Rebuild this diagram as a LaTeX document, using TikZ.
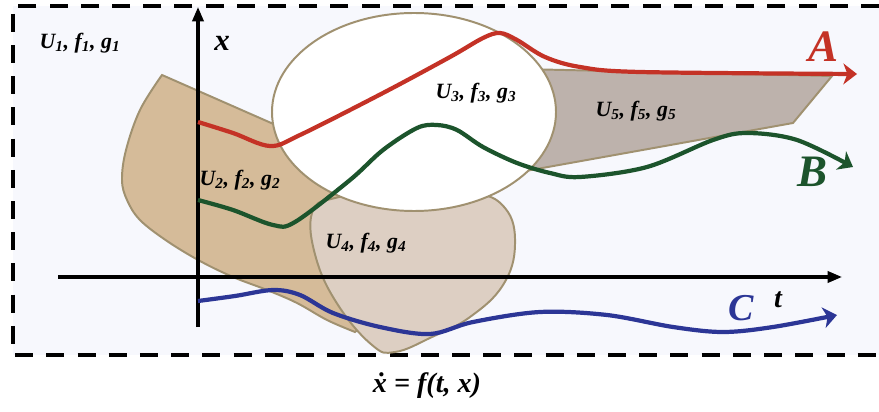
\documentclass[tikz,border=0pt]{standalone}
\usepackage{fontspec}
\setmainfont{Liberation Serif}
\usetikzlibrary{arrows.meta}

\definecolor{boxbg}{RGB}{247,248,253}
\definecolor{regionedge}{RGB}{160,145,112}
\definecolor{tanfill}{RGB}{213,187,153}
\definecolor{pinkfill}{RGB}{221,207,195}
\definecolor{greyfill}{RGB}{189,178,172}
\definecolor{curveA}{RGB}{196,50,38}
\definecolor{curveB}{RGB}{28,84,44}
\definecolor{curveC}{RGB}{44,54,150}

\tikzstyle{region} = [draw=regionedge, line width=1.4pt]
\tikzstyle{axis} = [%
					line width=2.2pt,
					-{Triangle[length=0.36cm, width=0.28cm]}
					]
\tikzstyle{traj} = [%
					line width=3pt,
					-{Stealth[length=0.34cm, width=0.52cm, inset=0.1cm]}
					]
\tikzstyle{lab} = [font=\fontsize{15.5}{18}\selectfont\bfseries\itshape, inner sep=0pt]
\tikzstyle{biglab} = [font=\fontsize{32}{36}\selectfont\bfseries\itshape, inner sep=0pt]

\newcommand{\ufg}[1]{U\textsubscript{#1}, f\textsubscript{#1}, g\textsubscript{#1}}

\begin{document}
\begin{tikzpicture}[x=0.025cm, y=-0.025cm]
	\useasboundingbox (0,0) rectangle (879,412);
	
	% Frame
	\fill[boxbg] (13,6) rectangle (879,355);
	\draw[line width=2.2pt, dash pattern=on 0.45cm off 0.33cm] (879,6) -- (13,6) -- (13,355) -- (879,355);
	
	% Coordinates
	\coordinate (xbot)   at (198,327);
	\coordinate (xtop)   at (198,7);
	\coordinate (tleft)  at (58,277);
	\coordinate (tright) at (842,277);
	
	% Regions
	%% U2
	\draw[region, fill=tanfill] (162,75) -- (278,126) -- (420,175) -- (440,260) -- (355,332)
		-- plot[smooth, tension=0.6] coordinates {(355,332) (327,320) (297,303) (267,290) (233,277) (200,261) (167,241) (140,220) (127,200) (122,180) (126,150) (140,110) (162,75)} -- cycle;
	%% U5
	\draw[region, fill=greyfill] (520,69) -- (832,76) -- (793,123) -- (520,172) -- cycle;
	%% U4
	\draw[region, fill=pinkfill] plot[smooth cycle, tension=0.7] coordinates {(312,213) (316,258) (338,305) (372,345) (395,352) (432,337) (470,317) (503,285) (515,245) (505,208) (470,192) (400,190) (335,198)};
	%% U3
	\draw[region, fill=white] (414,112) ellipse [x radius=142, y radius=99];
	
	% Axes
	\draw[axis] (xbot) -- (xtop);
	\draw[axis] (tleft) -- (tright);
	
	% Trajectories
	\draw[traj, curveA] plot[smooth, tension=0.55] coordinates {(198,122) (233,133) (270,146) (300,135) (383,93) (450,57) (483,38) (500,33) (517,40) (545,57) (580,67) (640,72) (857,74)};
	\draw[traj, curveB] plot[smooth, tension=0.55] coordinates {(198,200) (233,210) (273,225) (295,222) (350,180) (383,150) (417,128) (437,125) (457,130) (483,147) (517,163) (550,173) (580,177) (647,167) (713,140) (747,133) (797,140) (853,167)};
	\draw[traj, curveC] plot[smooth, tension=0.55] coordinates {(198,301) (235,296) (273,290) (300,295) (333,313) (380,327) (430,334) (473,322) (540,312) (607,315) (673,327) (723,332) (773,327) (837,315)};
	
	% Labels
	\node[lab] (u1) at (80,43)   {\ufg{1}};
	\node[lab] (u2) at (240,180) {\ufg{2}};
	\node[lab] (u3) at (476,93)  {\ufg{3}};
	\node[lab] (u4) at (366,243) {\ufg{4}};
	\node[lab] (u5) at (636,111) {\ufg{5}};
	\node[lab, font=\fontsize{22}{24}\selectfont\bfseries\itshape] (xlab) at (222,43) {x};
	\node[lab, font=\fontsize{20}{24}\selectfont\bfseries\itshape] (tlab) at (778,300) {t};
	\node[biglab, curveA] (alab) at (823,47)  {A};
	\node[biglab, curveB] (blab) at (812,172) {B};
	\node[biglab, curveC, font=\fontsize{27}{30}\selectfont\bfseries\itshape] (clab) at (741,308) {C};
	\node[lab, font=\fontsize{20}{24}\selectfont\bfseries\itshape] (ode) at (427,386) {\.{x} = f(t, x)};
\end{tikzpicture}
\end{document}
